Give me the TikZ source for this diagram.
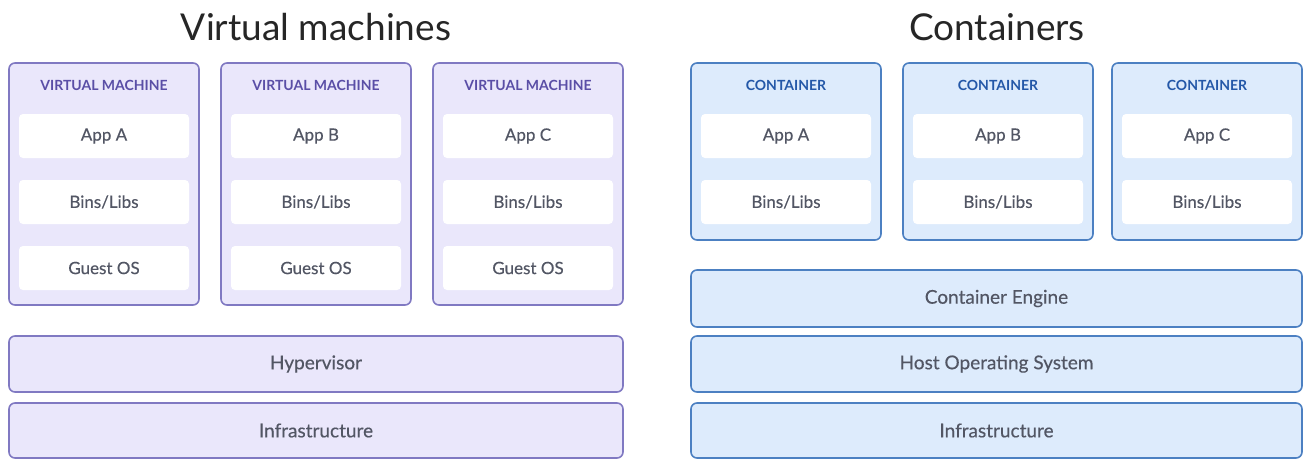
\documentclass[tikz,border=0pt]{standalone}
\usepackage{fontspec}
\setmainfont{Lato}
\newfontfamily\medfont[FakeBold=0.35]{Lato}
\usepackage{tikz}

\definecolor{vmfill}{HTML}{EAE7FB}
\definecolor{vmline}{HTML}{8079C2}
\definecolor{vmtext}{HTML}{5A4EA6}
\definecolor{ctfill}{HTML}{DDEBFC}
\definecolor{ctline}{HTML}{4C80C2}
\definecolor{cttext}{HTML}{2458A8}
\definecolor{bodytext}{HTML}{525664}

\tikzset{
  vmbox/.style={draw=vmline, fill=vmfill, line width=1.6pt, rounded corners=6pt, minimum width=190pt},
  ctbox/.style={draw=ctline, fill=ctfill, line width=1.6pt, rounded corners=6pt, minimum width=190pt},
  vmlayer/.style={vmbox, minimum width=614pt, text=bodytext, font=\medfont\fontsize{19}{21}\selectfont},
  ctlayer/.style={ctbox, minimum width=611pt, text=bodytext, font=\medfont\fontsize{19}{21}\selectfont},
  inbox/.style={fill=white, rounded corners=4pt, minimum width=170pt, minimum height=44pt, text=bodytext, font=\medfont\fontsize{17}{19}\selectfont},
  tag/.style={font=\bfseries\fontsize{14}{16}\selectfont},
  heading/.style={font=\fontsize{37}{40}\selectfont, text=black!85}
}

\begin{document}
\begin{tikzpicture}[x=1pt, y=-1pt]
    \useasboundingbox[fill=white] (0,0) rectangle (1303,461);

    % virtual machines
    \node[heading] at (316, 27) (vmtitle) {Virtual machines};

    \node[vmbox, minimum height=242pt] at (104, 184) (vm1) {};
    \node[vmbox, minimum height=242pt] at (316, 184) (vm2) {};
    \node[vmbox, minimum height=242pt] at (528, 184) (vm3) {};

    \node[tag, text=vmtext] at (104, 85) (vm1tag) {VIRTUAL MACHINE};
    \node[tag, text=vmtext] at (316, 85) (vm2tag) {VIRTUAL MACHINE};
    \node[tag, text=vmtext] at (528, 85) (vm3tag) {VIRTUAL MACHINE};

    \node[inbox] at (104, 136) (vm1app) {App A};
    \node[inbox] at (104, 202) (vm1bins) {Bins/Libs};
    \node[inbox] at (104, 268) (vm1os) {Guest OS};
    \node[inbox] at (316, 136) (vm2app) {App B};
    \node[inbox] at (316, 202) (vm2bins) {Bins/Libs};
    \node[inbox] at (316, 268) (vm2os) {Guest OS};
    \node[inbox] at (528, 136) (vm3app) {App C};
    \node[inbox] at (528, 202) (vm3bins) {Bins/Libs};
    \node[inbox] at (528, 268) (vm3os) {Guest OS};

    \node[vmlayer, minimum height=56pt] at (316, 364) (hyper) {Hypervisor};
    \node[vmlayer, minimum height=55pt] at (316, 430.5) (vminfra) {Infrastructure};

    % containers
    \node[heading] at (997, 27) (cttitle) {Containers};

    \node[ctbox, minimum height=177pt] at (786, 151.5) (ct1) {};
    \node[ctbox, minimum height=177pt] at (998, 151.5) (ct2) {};
    \node[ctbox, minimum height=177pt] at (1207, 151.5) (ct3) {};

    \node[tag, text=cttext] at (786, 85) (ct1tag) {CONTAINER};
    \node[tag, text=cttext] at (998, 85) (ct2tag) {CONTAINER};
    \node[tag, text=cttext] at (1207, 85) (ct3tag) {CONTAINER};

    \node[inbox] at (786, 136) (ct1app) {App A};
    \node[inbox] at (786, 202) (ct1bins) {Bins/Libs};
    \node[inbox] at (998, 136) (ct2app) {App B};
    \node[inbox] at (998, 202) (ct2bins) {Bins/Libs};
    \node[inbox] at (1207, 136) (ct3app) {App C};
    \node[inbox] at (1207, 202) (ct3bins) {Bins/Libs};

    \node[ctlayer, minimum height=57pt] at (996.5, 298.5) (engine) {Container Engine};
    \node[ctlayer, minimum height=56pt] at (996.5, 364) (hostos) {Host Operating System};
    \node[ctlayer, minimum height=55pt] at (996.5, 430.5) (ctinfra) {Infrastructure};
\end{tikzpicture}
\end{document}
